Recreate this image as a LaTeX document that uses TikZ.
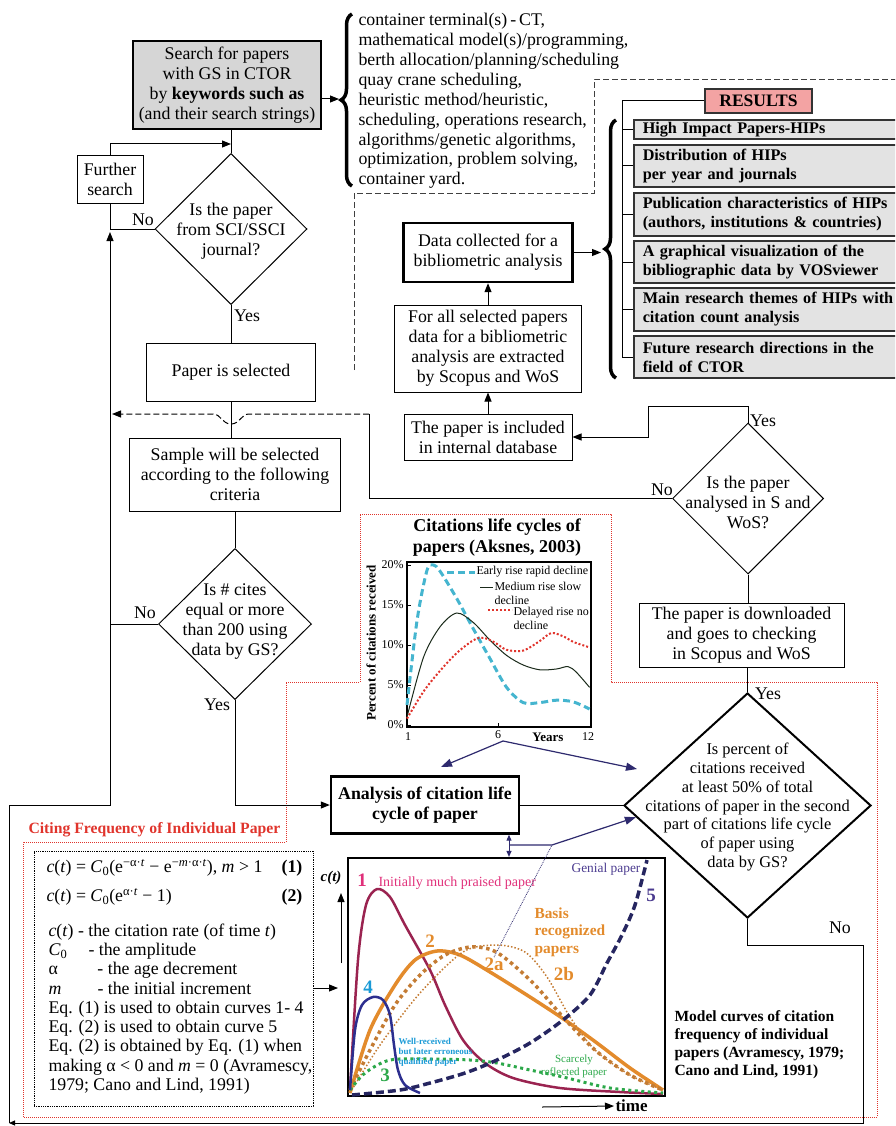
\documentclass[tikz,border=0pt]{standalone}
\usepackage{fontspec}
\setmainfont{Liberation Serif}
\usetikzlibrary{arrows.meta, shapes.geometric, decorations.pathreplacing}

\definecolor{boxgray}{HTML}{D6D6D6}
\definecolor{resgray}{HTML}{E3E3E3}
\definecolor{respink}{HTML}{F3A3A3}
\definecolor{dotred}{HTML}{E0342C}
\definecolor{navyarrow}{HTML}{2E2A6E}
\definecolor{cyancurve}{HTML}{45B5CF}
\definecolor{curvedark}{HTML}{1A2A1A}
\definecolor{curveone}{HTML}{9A2350}
\definecolor{orangec}{HTML}{E38B2C}
\definecolor{brownc}{HTML}{C47C34}
\definecolor{greenc}{HTML}{2CA84A}
\definecolor{navyc}{HTML}{2D2F8F}
\definecolor{darknavy}{HTML}{262660}
\definecolor{magentac}{HTML}{E0307A}
\definecolor{bluec}{HTML}{1A9AD6}
\definecolor{genialc}{HTML}{4B3B8F}

\newcommand{\fsmain}{\fontsize{17.8}{20}\selectfont}
\newcommand{\fsres}{\fontsize{16.2}{19}\selectfont\bfseries}
\newcommand{\fsdia}{\fontsize{16.4}{18.7}\selectfont}
\newcommand{\fssmall}{\fontsize{12}{14}\selectfont}
\newcommand{\fsdigit}{\fontsize{19}{21}\selectfont\bfseries}

\begin{document}
\begin{tikzpicture}[x=1pt, y=-1pt, line width=1pt, >={Triangle[length=9pt,width=7pt]},
  box/.style={draw, line width=1pt, align=center, inner sep=0pt, font=\fsmain},
  thickbox/.style={box, line width=2.4pt},
  decision/.style={draw, diamond, line width=1pt, inner sep=0pt},
  dectext/.style={font=\fsmain, align=center, inner sep=0pt},
  restext/.style={draw=black!80, line width=1.5pt, fill=resgray, anchor=west, align=left, text width=270pt, inner xsep=9pt, inner ysep=0pt, font=\fsres},
  yn/.style={font=\fsmain, inner sep=1pt},
  navarrow/.style={draw=navyarrow, line width=1.2pt, -{Triangle[length=11pt,width=8pt]}},
  bigbrace/.style={decorate, decoration={brace, amplitude=11pt}, line width=3.5pt}]
\useasboundingbox (0,0) rectangle (895,1126);
\clip (0,0) rectangle (895,1126);

\draw[dotred, densely dotted, line width=1pt] (360,514) -- (611,514) -- (611,682) -- (877,682) -- (877,1117) -- (23,1117) -- (23,842) -- (286,842) -- (286,682) -- (360,682) -- cycle;
\draw[dashed, dash pattern=on 6pt off 3pt, line width=0.9pt, black!75] (354,370) -- (354,193) -- (594,193) -- (594,79) -- (900,79);

% left column
\node[thickbox, fill=boxgray, minimum width=188, minimum height=88] (search) at (227,85) {Search for papers\\with GS in CTOR\\by \textbf{keywords such as}\\(and their search strings)};
\node[box, minimum width=66, minimum height=47] (further) at (110,179.5) {Further\\search};
\node[decision, minimum width=152, minimum height=151] (d1) at (231,229) {};
\node[dectext] (d1t) at (231,231) {Is the paper\\from SCI/SSCI\\journal?};
\node[box, minimum width=169, minimum height=58] (selected) at (231,372) {Paper is selected};
\node[box, minimum width=211, minimum height=73] (sample) at (235,474.5) {Sample will be selected\\according to the following\\criteria};
\node[decision, minimum width=153, minimum height=151] (d2) at (235,624) {};
\node[dectext] (d2t) at (235,622) {Is \# cites\\equal or more\\than 200 using\\data by GS?};
\node[thickbox, font=\fsmain\bfseries, minimum width=188, minimum height=57] (analysis) at (425,805) {Analysis of citation life\\cycle of paper};

% right column
\node[thickbox, minimum width=169, minimum height=59] (datacol) at (488,252.5) {Data collected for a\\bibliometric analysis};
\node[box, minimum width=187, minimum height=87] (forall) at (488,348.5) {For all selected papers\\data for a bibliometric\\analysis are extracted\\by Scopus and WoS};
\node[box, minimum width=168, minimum height=46] (included) at (488,437) {The paper is included\\in internal database};
\node[decision, minimum width=151, minimum height=151] (d3) at (748,498.5) {};
\node[dectext] (d3t) at (748,502) {Is the paper\\analysed in S and\\WoS?};
\node[box, minimum width=205, minimum height=64] (download) at (741.5,635) {The paper is downloaded\\and goes to checking\\in Scopus and WoS};
\node[decision, line width=2pt, minimum width=247, minimum height=225] (d4) at (747.5,805.5) {};
\node[font=\fsdia, align=center, inner sep=0pt] (d4t) at (747.5,807) {Is percent of\\citations received\\at least 50\% of total\\citations of paper in the second\\part of citations life cycle\\of paper using\\data by GS?};

% keywords and results
\node[anchor=west, align=left, inner sep=0pt, font=\fontsize{17.8}{19.9}\selectfont] (keys) at (358,101) {container terminal(s)\,-\,CT,\\mathematical model(s)/programming,\\berth allocation/planning/scheduling\\quay crane scheduling,\\heuristic method/heuristic,\\scheduling, operations research,\\algorithms/genetic algorithms,\\optimization, problem solving,\\container yard.};
\draw[bigbrace] (352,186) -- (352,14);
\coordinate (kb) at (339,99);
\draw[->] (search.east |- kb) -- (kb);

\node[draw=black!80, line width=1.5pt, fill=respink, minimum width=107, minimum height=24, inner sep=0pt, font=\fontsize{17.5}{20}\selectfont\bfseries] (results) at (758.5,101) {RESULTS};
\node[restext, minimum height=19] (r1) at (633,129.5) {High Impact Papers-HIPs};
\node[restext, minimum height=42] (r2) at (633,166) {Distribution of HIPs\\per year and journals};
\node[restext, minimum height=43] (r3) at (633,214.5) {Publication characteristics of HIPs\\(authors, institutions \& countries)};
\node[restext, minimum height=42] (r4) at (633,262) {A graphical visualization of the\\bibliographic data by VOSviewer};
\node[restext, minimum height=43] (r5) at (633,309.5) {Main research themes of HIPs with\\citation count analysis};
\node[restext, minimum height=42] (r6) at (633,357) {Future research directions in the\\field of CTOR};
\coordinate (tr) at (622,101);
\draw (results.west) -- (tr) -- (tr |- r6.west);
\foreach \r in {r1,r2,r3,r4,r5,r6}
  \draw (tr |- \r.west) -- (\r.west);
\draw[bigbrace] (616,378) -- (616,120);
\coordinate (rb) at (601,251);
\draw[->] (datacol.east) -- (datacol.east -| rb);

% flow connectors
\coordinate (j1) at (231,144);
\coordinate (k1) at (648,406);
\coordinate (k2) at (369,414);
\coordinate (k3) at (112,414);
\coordinate (c1) at (863,945);
\coordinate (c2) at (863,1123);
\coordinate (c3) at (9,1123);
\coordinate (c4) at (9,805);
\coordinate (c5) at (110,805);
\coordinate (c6) at (110,232);

\draw (d1.north |- search.south) -- (d1.north);
\draw[->] (further.north) |- (j1);
\draw (d1.west) -| (further.south);
\node[yn] at (143,220) {No};
\draw (d1.south) -- (selected.north);
\node[yn] at (247,316) {Yes};
\draw (selected.south) -- (selected.south |- sample.north);
\draw (sample.south) -- (d2.north);
\draw (d2.west) -- (d2.west -| c6);
\node[yn] at (145,613) {No};
\draw[->] (d2.south) |- (analysis.west);
\node[yn] at (217,705) {Yes};
\draw (analysis.east) -- (analysis.east -| d4.west);

\draw[->] (forall.north) -- (datacol.south);
\draw[->] (included.north) -- (forall.south);
\draw[->] (d3.north) |- (k1) |- (included.east);
\node[yn] at (763,421) {Yes};
\draw (d3.west) -| (k2);
\draw[dashed, dash pattern=on 6pt off 3pt, ->] (k2) -- (249,414) .. controls (241,414) and (240,424) .. (231,424) .. controls (222,424) and (221,414) .. (213,414) -- (k3);
\node[yn] at (662,490) {No};
\draw (d3.south) -- (d3.south |- download.north);
\draw (download.south -| d4.north) -- (d4.north);
\node[yn] at (768,694) {Yes};
\draw[-{Triangle[length=6pt,width=5pt]}] (d4.south) |- (c1) -- (c2) -- (c3);
\draw[->] (c3) -- (c4) -- (c5) -- (c6);
\node[yn] at (840,928) {No};

% citations life cycles chart
\node[font=\fontsize{18}{21}\selectfont\bfseries, align=center, inner sep=0pt] (t1) at (497,538) {Citations life cycles of\\papers (Aksnes, 2003)};
\node[draw, line width=1.5pt, minimum width=184, minimum height=165, inner sep=0pt] (frame1) at (499,644.5) {};
\foreach \v/\y in {0/725, 5/685, 10/645, 15/605, 20/565} {
  \node[anchor=east, font=\fssmall, inner sep=1pt] at (405,\y) {\v\%};
  \draw (407,\y) -- (411,\y);
}
\draw (498,727) -- (498,723);
\node[font=\fssmall, inner sep=1pt] at (408,737) {1};
\node[font=\fssmall, inner sep=1pt] at (498,735) {6};
\node[font=\fssmall, inner sep=1pt] at (588,737) {12};
\node[font=\fontsize{13}{15}\selectfont\bfseries, inner sep=1pt] at (548,737) {Years};
\node[rotate=90, font=\fontsize{13}{15}\selectfont\bfseries, inner sep=0pt] at (371,643) {Percent of citations received};
\begin{scope}[shift={(390.4,725)}, x=16.6pt, y=8pt]
\draw[cyancurve, line width=3pt, dash pattern=on 7pt off 4pt] plot[smooth] coordinates {(1,2.5) (1.6,13) (2.2,19.3) (2.6,20) (3,19.2) (4,15.8) (5,12) (6,8.3) (7,4.7) (8,2.8) (9,2.8) (10,3.1) (11,2.9) (12,2)};
\draw[curvedark, line width=1pt] plot[smooth] coordinates {(1,1) (2,8.5) (3,12.3) (4,14) (5,12.8) (6,10.6) (7,8.7) (8,7.5) (9,6.9) (10,7) (10.7,7.3) (11.2,6.6) (12,4.7)};
\draw[dotred, line width=2pt, dotted] plot[smooth] coordinates {(1,0.8) (2,4.2) (3,6.8) (4,9) (5,10.6) (5.6,10.9) (6.3,10.3) (7,9.4) (8,9.3) (9,10.5) (9.7,11.5) (10.5,11) (11,10.4) (12,9.7)};
\end{scope}
\draw[cyancurve, line width=3pt, dash pattern=on 7pt off 4pt] (447,572) -- (475,572);
\node[anchor=west, font=\fssmall, inner sep=1pt] at (475,572) {Early rise rapid decline};
\draw[curvedark] (480,587) -- (493,587);
\node[anchor=west, align=left, font=\fssmall, inner sep=0pt] at (494,593.5) {Medium rise slow\\decline};
\draw[dotred, line width=2pt, dotted] (488,610) -- (512,610);
\node[anchor=west, align=left, font=\fssmall, inner sep=0pt] at (513,618) {Delayed rise no\\decline};
\coordinate (a6) at (503,741);
\coordinate (aL) at (441,767);
\coordinate (aR) at (637,769);
\draw[navarrow] (a6) -- (aL);
\draw[navarrow] (a6) -- (aR);

% citing frequency box
\node[text=dotred, font=\fontsize{15.7}{18}\selectfont\bfseries, anchor=west, inner sep=0pt] (citing) at (28,830) {Citing Frequency of Individual Paper};
\node[draw, densely dotted, line width=0.8pt, minimum width=279, minimum height=255, inner sep=0pt] (ebox) at (173.5,978.5) {};
\node[anchor=west, font=\fsmain, inner sep=0pt] (eq1) at (46,868) {\textit{c}(\textit{t}) = \textit{C}\textsubscript{0}(e\textsuperscript{−α·\textit{t}} − e\textsuperscript{−\textit{m}·α·\textit{t}}), \textit{m} > 1};
\node[font=\fsmain\bfseries, inner sep=0pt] (n1) at (292,868) {(1)};
\node[anchor=west, font=\fsmain, inner sep=0pt] (eq2) at (46,897) {\textit{c}(\textit{t}) = \textit{C}\textsubscript{0}(e\textsuperscript{α·\textit{t}} − 1)};
\node[font=\fsmain\bfseries, inner sep=0pt] (n2) at (292,897) {(2)};
\node[anchor=west, align=left, inner sep=0pt, font=\fontsize{17.8}{19.25}\selectfont] (defs) at (48,1009) {\textit{c}(\textit{t}) - the citation rate (of time \textit{t})\\\makebox[40pt][l]{\textit{C}\textsubscript{0}}- the amplitude\\\makebox[49pt][l]{α}- the age decrement\\\makebox[49pt][l]{\textit{m}}- the initial increment\\Eq. (1) is used to obtain curves 1- 4\\Eq. (2) is used to obtain curve 5\\Eq. (2) is obtained by Eq. (1) when\\making α < 0 and \textit{m} = 0 (Avramescy,\\1979; Cano and Lind, 1991)};
\coordinate (ea) at (338,988);
\draw[->] (ebox.east |- ea) -- (ea);

% model curves chart
\node[draw, line width=2.2pt, minimum width=317, minimum height=238, inner sep=0pt] (frame2) at (506.5,977) {};
\node[font=\fontsize{15}{17}\selectfont\bfseries\itshape, inner sep=0pt] (ct) at (331,878) {c(t)};
\coordinate (cta) at (341,963);
\coordinate (ctb) at (341,893);
\draw[->] (cta) -- (ctb);
\node[font=\fontsize{17}{20}\selectfont\bfseries, anchor=west, inner sep=1pt] (time) at (614,1106) {time};
\coordinate (ta) at (542,1107);
\draw[->] (ta) -- (time.west);

\draw[curveone, line width=2.5pt] plot[smooth] coordinates {(350,1090) (358,960) (366,905) (377,889) (390,897) (405,925) (430,970) (445,1005) (463,1040) (485,1063) (513,1078) (560,1088) (620,1092) (663,1094)};
\draw[orangec, line width=3.5pt] plot[smooth] coordinates {(350,1093) (370,1030) (395,985) (415,960) (437,951) (460,955) (490,972) (530,997) (565,1020) (597,1043) (630,1068) (663,1090)};
\draw[brownc, line width=3.5pt, dash pattern=on 3.5pt off 3.5pt] plot[smooth] coordinates {(350,1090) (370,1050) (395,1005) (420,975) (445,955) (470,947) (492,950) (510,962) (535,985) (563,1017) (595,1050) (630,1075) (663,1090)};
\draw[brownc, line width=1.5pt, dash pattern=on 1.5pt off 2pt] plot[smooth] coordinates {(350,1093) (380,1045) (420,993) (463,952) (497,945) (525,952) (547,977) (570,1017) (595,1050) (630,1075) (663,1090)};
\draw[greenc, line width=3pt, dash pattern=on 3pt off 3.5pt] plot[smooth] coordinates {(350,1090) (365,1073) (390,1060) (430,1059) (470,1060) (497,1063) (530,1070) (563,1077) (610,1088) (663,1093)};
\draw[navyc, line width=2.5pt] plot[smooth] coordinates {(350,1090) (355,1030) (362,1005) (373,997) (383,1000) (390,1015) (394,1045) (398,1070) (405,1085) (420,1093)};
\draw[darknavy, line width=3.5pt, dash pattern=on 8pt off 4pt] plot[smooth] coordinates {(352,1095) (400,1090) (430,1083) (465,1073) (497,1060) (530,1043) (563,1020) (590,995) (607,963) (622,935) (635,905) (647,860)};

\node[text=magentac, font=\fsdigit, inner sep=0pt] (l1) at (362,880) {1};
\node[text=magentac, font=\fontsize{14}{16}\selectfont, anchor=west, inner sep=0pt] (l1t) at (378,883) {Initially much praised paper};
\node[text=orangec, font=\fsdigit, inner sep=0pt] (l2) at (430,941) {2};
\node[text=orangec, font=\fsdigit, inner sep=0pt] (l2a) at (494,964) {2a};
\node[text=orangec, font=\fsdigit, inner sep=0pt] (l2b) at (564,974) {2b};
\node[text=orangec, font=\fontsize{15.4}{17.3}\selectfont\bfseries, anchor=west, align=left, inner sep=0pt] (lbasis) at (534,932) {Basis\\recognized\\papers};
\node[text=greenc, font=\fsdigit, inner sep=0pt] (l3) at (385,1075) {3};
\node[text=bluec, font=\fsdigit, inner sep=0pt] (l4) at (368,987) {4};
\node[text=genialc, font=\fsdigit, inner sep=0pt] (l5) at (651,895) {5};
\node[text=genialc, font=\fontsize{13.4}{15}\selectfont, inner sep=0pt] (lgen) at (606,869) {Genial paper};
\node[text=bluec, font=\fontsize{9}{10}\selectfont\bfseries, anchor=west, align=left, inner sep=0pt] (lwell) at (398,1052) {Well-received\\but later erroneous\\qualified paper};
\node[text=greenc, font=\fontsize{11}{13}\selectfont, align=center, inner sep=0pt] (lscarce) at (574,1066) {Scarcely\\reflected paper};
\node[anchor=west, align=left, inner sep=0pt, font=\fontsize{15.5}{18}\selectfont\bfseries] (model) at (674,1045) {Model curves of citation\\frequency of individual\\papers (Avramescy, 1979;\\Cano and Lind, 1991)};

\coordinate (m1) at (509,845);
\coordinate (m2) at (552,845);
\draw[navyarrow, line width=1pt, {Triangle[length=6pt,width=5pt]}-{Triangle[length=6pt,width=5pt]}] (m1 |- analysis.south) -- (m1 |- frame2.north);
\draw[navarrow] (m1) -- (m2) -- (d4.186);
\draw[navyarrow, densely dotted, line width=0.8pt] (l2a.north) -- (m2);
\end{tikzpicture}
\end{document}
